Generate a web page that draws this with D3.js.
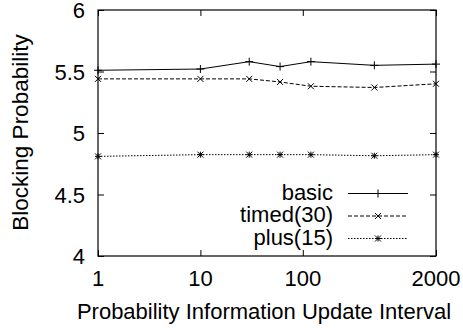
<!DOCTYPE html>
<html><head><meta charset="utf-8">
<script src="https://cdn.jsdelivr.net/npm/d3@7"></script>
<style>body{margin:0;background:#fff}svg{display:block}text{font-family:"Liberation Sans",Arial,sans-serif;fill:#000}</style>
</head><body><svg id="c" width="463" height="328"></svg>
<script>
const intervals = [1, 10, 30, 60, 120, 500, 2000];
const basic = [5.51, 5.52, 5.58, 5.54, 5.58, 5.55, 5.56];
const timed30 = [5.44, 5.44, 5.44, 5.415, 5.38, 5.37, 5.40];
const plus15 = [4.81, 4.824, 4.824, 4.824, 4.824, 4.815, 4.824];
const xTicks = [1, 10, 100, 2000];
const yTicks = [4, 4.5, 5, 5.5, 6];
const seriesNames = ["basic", "timed(30)", "plus(15)"];

const svg = d3.select("#c");
const L = 98, R = 436, T = 10, B = 256;
const x = d3.scaleLog().domain([1, 2000]).range([L, R]);
const y = d3.scaleLinear().domain([4, 6]).range([B, T]);
const tk = 6;
const fs = 22;

function hText(g, tx, ty, str, anchor){
  g.append("text").attr("x", tx).attr("y", ty)
   .attr("text-anchor", anchor).style("font-size", fs + "px").text(str);
}

// frame & ticks via axes
const ax = svg.append("g");
function clean(g){ g.select(".domain").remove(); g.selectAll("line").attr("stroke", "#000"); }
ax.append("g").attr("transform", `translate(0,${B})`)
  .call(d3.axisBottom(x).tickValues(xTicks).tickSize(-tk).tickFormat("")).call(clean);
ax.append("g").attr("transform", `translate(0,${T})`)
  .call(d3.axisTop(x).tickValues(xTicks).tickSize(-tk).tickFormat("")).call(clean);
ax.append("g").attr("transform", `translate(${L},0)`)
  .call(d3.axisLeft(y).tickValues(yTicks).tickSize(-tk).tickFormat("")).call(clean);
ax.append("g").attr("transform", `translate(${R},0)`)
  .call(d3.axisRight(y).tickValues(yTicks).tickSize(-tk).tickFormat("")).call(clean);
svg.append("rect").attr("x", L).attr("y", T).attr("width", R - L).attr("height", B - T)
  .attr("fill", "none").attr("stroke", "#000").attr("stroke-width", 1.2);

const labs = svg.append("g");
yTicks.forEach(v => hText(labs, 85, y(v) + 8, String(v), "end"));
xTicks.forEach(v => hText(labs, x(v), 286, String(v), "middle"));
hText(labs, 264, 319, "Probability Information Update Interval", "middle");
svg.append("text").attr("transform", `translate(28,132.5) rotate(-90)`)
  .attr("text-anchor", "middle").style("font-size", "22.5px").text("Blocking Probability");

const styles = [
  {data: basic, dash: null, mark: "plus"},
  {data: timed30, dash: "4,2", mark: "cross"},
  {data: plus15, dash: "1.5,1.5", mark: "star"}
];
function marker(g, cx, cy, type){
  const s = type === "plus" ? 4 : 3;
  const p = d3.path();
  if (type === "plus" || type === "star") { p.moveTo(cx - s, cy); p.lineTo(cx + s, cy); p.moveTo(cx, cy - s); p.lineTo(cx, cy + s); }
  if (type === "cross" || type === "star") { p.moveTo(cx - s, cy - s); p.lineTo(cx + s, cy + s); p.moveTo(cx - s, cy + s); p.lineTo(cx + s, cy - s); }
  g.append("path").attr("d", p.toString()).attr("stroke", "#000").attr("stroke-width", 1).attr("fill", "none");
}
const line = d3.line().x((d, i) => x(intervals[i])).y(d => y(d));
const plot = svg.append("g");
styles.forEach(s => {
  plot.append("path").attr("d", line(s.data)).attr("fill", "none").attr("stroke", "#000")
    .attr("stroke-width", 1).attr("stroke-dasharray", s.dash);
  s.data.forEach((d, i) => marker(plot, x(intervals[i]), y(d), s.mark));
});

// legend
const lg = svg.append("g");
styles.forEach((s, i) => {
  const ly = 193.5 + i * 22.5;
  hText(lg, 333, ly + 6, seriesNames[i], "end");
  lg.append("line").attr("x1", 348).attr("x2", 408).attr("y1", ly).attr("y2", ly)
    .attr("stroke", "#000").attr("stroke-width", 1).attr("stroke-dasharray", s.dash);
  marker(lg, 378, ly, s.mark);
});
</script></body></html>
